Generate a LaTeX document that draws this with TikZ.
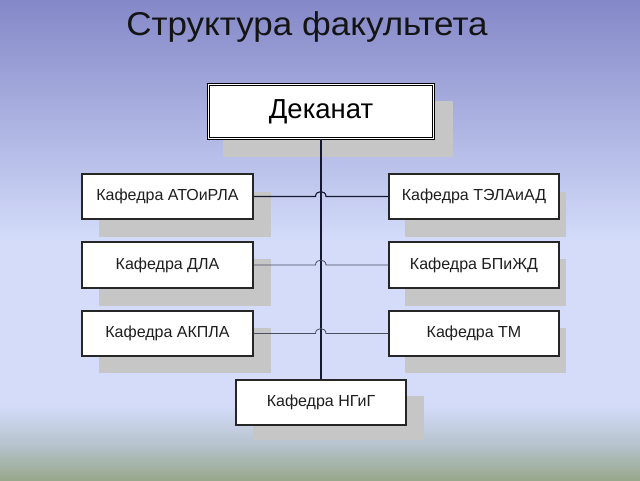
\documentclass[tikz,border=0pt]{standalone}
\usepackage{fontspec}
\setmainfont{Liberation Sans}
\definecolor{bgA}{HTML}{8488C8}
\definecolor{bgB}{HTML}{D4DCFA}
\definecolor{bgD}{HTML}{B6C2CC}
\definecolor{bgC}{HTML}{97A88C}
\definecolor{shgray}{HTML}{C6C6C6}
\definecolor{txt}{HTML}{1E1E1E}
\definecolor{linedark}{HTML}{141830}
\definecolor{linegray}{HTML}{4A4E60}
\tikzset{
  kbox/.style={draw=black!85, line width=1.1pt, fill=white, minimum height=45pt,
    inner sep=0pt, text=txt, font=\fontsize{16}{19}\selectfont},
  shadowbox/.style={fill=shgray},
  connthick/.style={draw=linedark, line width=1.1pt},
  connthin/.style={draw=linegray, line width=0.8pt},
}
\begin{document}
\begin{tikzpicture}[x=1pt,y=-1pt]
\useasboundingbox (0,0) rectangle (640,480);
% background
\shade[top color=bgA, bottom color=bgB] (0,0) rectangle (640,241);
\fill[bgB] (0,240) rectangle (640,406);
\shade[top color=bgB, bottom color=bgD] (0,405) rectangle (640,446);
\shade[top color=bgD, bottom color=bgC] (0,445) rectangle (640,480);
% title
\node[anchor=base, text=black!92, font=\fontsize{33}{38}\selectfont, inner sep=0pt, xscale=1.06] (title) at (307,35) {Структура факультета};
% shadows
\fill[shadowbox] (223,101) rectangle (453,157);
\fill[shadowbox] (99,192) rectangle (271,237);
\fill[shadowbox] (99,259) rectangle (271,306);
\fill[shadowbox] (99,328) rectangle (271,373);
\fill[shadowbox] (405,192) rectangle (566,237);
\fill[shadowbox] (405,259) rectangle (566,306);
\fill[shadowbox] (405,328) rectangle (566,373);
\fill[shadowbox] (253,396) rectangle (424,440);
% coordinates for hops
\coordinate (h1a) at (315.5,196.5); \coordinate (h1b) at (326,196.5);
\coordinate (h2a) at (315.5,265);   \coordinate (h2b) at (326,265);
\coordinate (h3a) at (315.5,333.5); \coordinate (h3b) at (326,333.5);
% nodes
\node[draw=black, line width=0.8pt, double=white, double distance=1.6pt, fill=white,
      minimum width=225pt, minimum height=54pt, inner sep=0pt, text=black,
      font=\fontsize{27.5}{32}\selectfont] (dek) at (321,111.5) {Деканат};
\node[kbox, minimum width=171pt] (k1) at (167.5,196.5) {Кафедра АТОиРЛА};
\node[kbox, minimum width=171pt, minimum height=46pt] (k2) at (167.5,265) {Кафедра ДЛА};
\node[kbox, minimum width=171pt] (k3) at (167.5,333.5) {Кафедра АКПЛА};
\node[kbox, minimum width=170pt] (k4) at (474,196.5) {Кафедра ТЭЛАиАД};
\node[kbox, minimum width=170pt, minimum height=46pt] (k5) at (474,265) {Кафедра БПиЖД};
\node[kbox, minimum width=170pt] (k6) at (474,333.5) {Кафедра ТМ};
\node[kbox, minimum width=170pt] (k7) at (321,402.5) {Кафедра НГиГ};
% connectors
\draw[connthick] (dek.south) -- (k7.north);
\draw[connthick] (k1.east) -- (h1a) .. controls +(0,-6.5) and +(0,-6.5) .. (h1b) -- (k4.west);
\draw[connthin] (k2.east) -- (h2a) .. controls +(0,-6.5) and +(0,-6.5) .. (h2b) -- (k5.west);
\draw[connthin] (k3.east) -- (h3a) .. controls +(0,-6.5) and +(0,-6.5) .. (h3b) -- (k6.west);
\end{tikzpicture}
\end{document}
